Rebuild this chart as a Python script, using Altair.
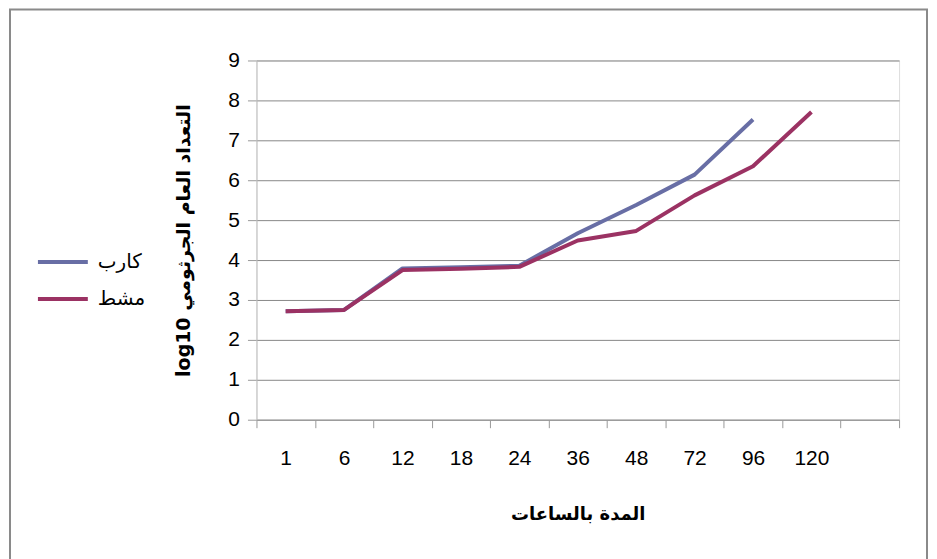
import altair as alt
import pandas as pd

hours = ["1", "6", "12", "18", "24", "36", "48", "72", "96", "120"]
domain_x = hours + [" "]
series_names = ["كارب", "مشط"]
karb = [2.72, 2.75, 3.79, 3.82, 3.86, 4.67, 5.38, 6.14, 7.52]
musht = [2.72, 2.75, 3.75, 3.78, 3.83, 4.49, 4.73, 5.62, 6.35, 7.71]
colors = ["#686EA5", "#9B3263"]

rows = []
for h, v in zip(hours, karb):
    rows.append({"hour": h, "value": v, "series": series_names[0]})
for h, v in zip(hours, musht):
    rows.append({"hour": h, "value": v, "series": series_names[1]})
df = pd.DataFrame(rows)

FONT = "Liberation Sans, Arial, DejaVu Sans"

lines = alt.Chart(df).mark_line(strokeWidth=4, strokeJoin="round").encode(
    x=alt.X("hour:N", sort=domain_x,
            scale=alt.Scale(domain=domain_x, paddingInner=0, paddingOuter=0),
            axis=alt.Axis(title="المدة بالساعات", labelAngle=0, labelFontSize=21,
                          labelFont=FONT, labelColor="#000000", labelPadding=20,
                          tickBand="extent", tickSize=8, tickColor="#999999",
                          domainColor="#999999", grid=False,
                          titleFont="DejaVu Sans", titleFontSize=18, titleFontWeight="bold",
                          titleColor="#000000", titleX=322, titleY=95,
                          titleBaseline="middle", titleAlign="center")),
    y=alt.Y("value:Q",
            scale=alt.Scale(domain=[0, 9], nice=False),
            axis=alt.Axis(title="log10  التعداد العام الجرثومي", values=list(range(0, 10)),
                          labelFontSize=21, labelFont=FONT, labelColor="#000000",
                          labelPadding=8, tickSize=9, tickColor="#999999",
                          domainColor="#c0c0c0", gridColor="#888888", gridWidth=1,
                          titleFont="DejaVu Sans", titleFontSize=19, titleFontWeight="bold",
                          titleColor="#000000", titleAngle=-90, titleX=-73, titleY=180,
                          titleAlign="center", titleBaseline="middle")),
    color=alt.Color("series:N",
                    scale=alt.Scale(domain=series_names, range=colors),
                    legend=alt.Legend(title=None, orient="none", legendX=-221, legendY=175,
                                      symbolType="stroke", symbolSize=2500,
                                      symbolStrokeWidth=4, labelFontSize=20,
                                      labelFont=FONT, labelColor="#000000",
                                      labelOffset=8, rowPadding=-10, padding=0)),
)

frame = alt.Chart(pd.DataFrame({"a": [0]})).mark_rect(
    fill=None, stroke="#8a8a8a", strokeWidth=2
).encode(
    x=alt.value(-247), x2=alt.value(672),
    y=alt.value(-51), y2=alt.value(520),
)

chart = alt.layer(frame, lines).properties(
    width=644, height=360,
    autosize=alt.AutoSizeParams(type="none"),
    padding={"left": 249, "top": 52, "right": 30, "bottom": 140},
).configure_view(stroke=None).configure(background="#ffffff")

chart.save("out.html", embed_options={"renderer": "svg", "actions": False})
